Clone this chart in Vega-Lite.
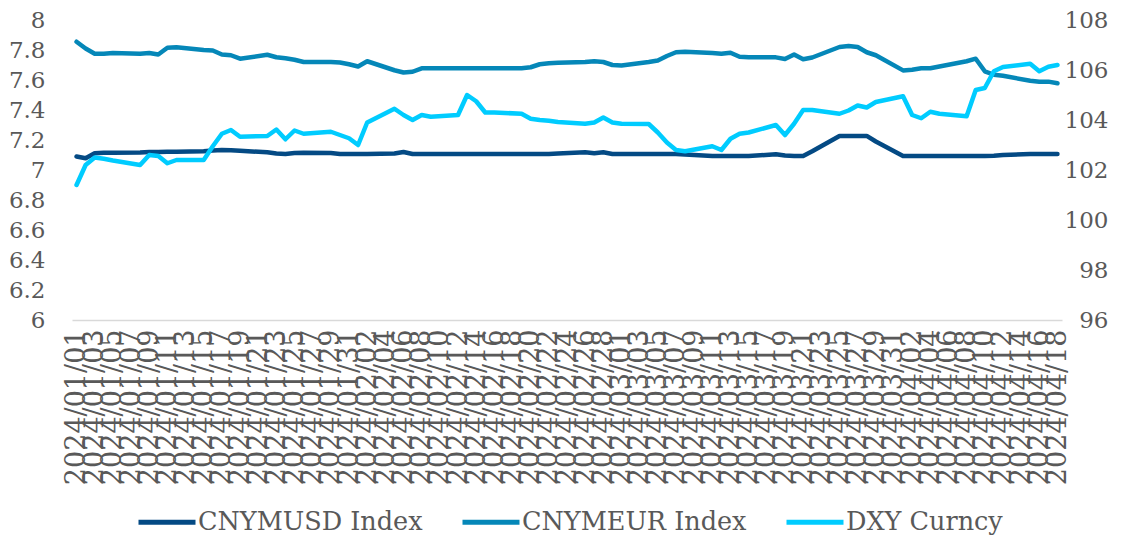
{
  "$schema": "https://vega.github.io/schema/vega-lite/v6.json",
  "width": 990,
  "height": 300,
  "autosize": {"type": "none"},
  "padding": {"left": 72, "top": 20, "right": 75, "bottom": 221},
  "background": "white",
  "config": {
    "view": {"stroke": null},
    "font": "DejaVu Serif",
    "axis": {"labelFont": "DejaVu Serif", "labelColor": "#595959", "grid": false, "ticks": false, "tickSize": 0, "title": null},
    "legend": {"labelFont": "DejaVu Serif"}
  },
  "data": {"values": [
    {"date": "2024-01-01", "CNYMUSD Index": 7.09, "CNYMEUR Index": 7.855, "DXY Curncy": 101.4},
    {"date": "2024-01-02", "CNYMUSD Index": 7.078, "CNYMEUR Index": 7.81, "DXY Curncy": 102.2},
    {"date": "2024-01-03", "CNYMUSD Index": 7.112, "CNYMEUR Index": 7.775, "DXY Curncy": 102.5},
    {"date": "2024-01-04", "CNYMUSD Index": 7.115, "CNYMEUR Index": 7.775, "DXY Curncy": 102.45},
    {"date": "2024-01-05", "CNYMUSD Index": 7.115, "CNYMEUR Index": 7.78, "DXY Curncy": 102.38},
    {"date": "2024-01-08", "CNYMUSD Index": 7.117, "CNYMEUR Index": 7.775, "DXY Curncy": 102.2},
    {"date": "2024-01-09", "CNYMUSD Index": 7.12, "CNYMEUR Index": 7.78, "DXY Curncy": 102.6},
    {"date": "2024-01-10", "CNYMUSD Index": 7.12, "CNYMEUR Index": 7.77, "DXY Curncy": 102.56},
    {"date": "2024-01-11", "CNYMUSD Index": 7.122, "CNYMEUR Index": 7.815, "DXY Curncy": 102.27},
    {"date": "2024-01-12", "CNYMUSD Index": 7.122, "CNYMEUR Index": 7.818, "DXY Curncy": 102.4},
    {"date": "2024-01-15", "CNYMUSD Index": 7.125, "CNYMEUR Index": 7.8, "DXY Curncy": 102.4},
    {"date": "2024-01-16", "CNYMUSD Index": 7.13, "CNYMEUR Index": 7.797, "DXY Curncy": 102.95},
    {"date": "2024-01-17", "CNYMUSD Index": 7.133, "CNYMEUR Index": 7.77, "DXY Curncy": 103.45},
    {"date": "2024-01-18", "CNYMUSD Index": 7.132, "CNYMEUR Index": 7.765, "DXY Curncy": 103.6},
    {"date": "2024-01-19", "CNYMUSD Index": 7.128, "CNYMEUR Index": 7.742, "DXY Curncy": 103.33},
    {"date": "2024-01-22", "CNYMUSD Index": 7.118, "CNYMEUR Index": 7.768, "DXY Curncy": 103.36},
    {"date": "2024-01-23", "CNYMUSD Index": 7.11, "CNYMEUR Index": 7.752, "DXY Curncy": 103.62},
    {"date": "2024-01-24", "CNYMUSD Index": 7.107, "CNYMEUR Index": 7.745, "DXY Curncy": 103.23},
    {"date": "2024-01-25", "CNYMUSD Index": 7.113, "CNYMEUR Index": 7.735, "DXY Curncy": 103.58},
    {"date": "2024-01-26", "CNYMUSD Index": 7.115, "CNYMEUR Index": 7.72, "DXY Curncy": 103.45},
    {"date": "2024-01-29", "CNYMUSD Index": 7.113, "CNYMEUR Index": 7.72, "DXY Curncy": 103.53},
    {"date": "2024-01-30", "CNYMUSD Index": 7.107, "CNYMEUR Index": 7.717, "DXY Curncy": 103.4},
    {"date": "2024-01-31", "CNYMUSD Index": 7.107, "CNYMEUR Index": 7.705, "DXY Curncy": 103.27},
    {"date": "2024-02-01", "CNYMUSD Index": 7.107, "CNYMEUR Index": 7.69, "DXY Curncy": 103.0},
    {"date": "2024-02-02", "CNYMUSD Index": 7.107, "CNYMEUR Index": 7.725, "DXY Curncy": 103.9},
    {"date": "2024-02-05", "CNYMUSD Index": 7.11, "CNYMEUR Index": 7.665, "DXY Curncy": 104.45},
    {"date": "2024-02-06", "CNYMUSD Index": 7.12, "CNYMEUR Index": 7.65, "DXY Curncy": 104.2},
    {"date": "2024-02-07", "CNYMUSD Index": 7.107, "CNYMEUR Index": 7.655, "DXY Curncy": 104.0},
    {"date": "2024-02-08", "CNYMUSD Index": 7.107, "CNYMEUR Index": 7.678, "DXY Curncy": 104.2},
    {"date": "2024-02-09", "CNYMUSD Index": 7.107, "CNYMEUR Index": 7.678, "DXY Curncy": 104.13},
    {"date": "2024-02-12", "CNYMUSD Index": 7.107, "CNYMEUR Index": 7.678, "DXY Curncy": 104.2},
    {"date": "2024-02-13", "CNYMUSD Index": 7.107, "CNYMEUR Index": 7.678, "DXY Curncy": 105.0},
    {"date": "2024-02-14", "CNYMUSD Index": 7.107, "CNYMEUR Index": 7.678, "DXY Curncy": 104.75},
    {"date": "2024-02-15", "CNYMUSD Index": 7.107, "CNYMEUR Index": 7.678, "DXY Curncy": 104.3},
    {"date": "2024-02-16", "CNYMUSD Index": 7.107, "CNYMEUR Index": 7.678, "DXY Curncy": 104.3},
    {"date": "2024-02-19", "CNYMUSD Index": 7.107, "CNYMEUR Index": 7.678, "DXY Curncy": 104.25},
    {"date": "2024-02-20", "CNYMUSD Index": 7.107, "CNYMEUR Index": 7.685, "DXY Curncy": 104.05},
    {"date": "2024-02-21", "CNYMUSD Index": 7.107, "CNYMEUR Index": 7.705, "DXY Curncy": 104.0},
    {"date": "2024-02-22", "CNYMUSD Index": 7.107, "CNYMEUR Index": 7.712, "DXY Curncy": 103.97},
    {"date": "2024-02-23", "CNYMUSD Index": 7.11, "CNYMEUR Index": 7.715, "DXY Curncy": 103.92},
    {"date": "2024-02-26", "CNYMUSD Index": 7.118, "CNYMEUR Index": 7.72, "DXY Curncy": 103.85},
    {"date": "2024-02-27", "CNYMUSD Index": 7.112, "CNYMEUR Index": 7.725, "DXY Curncy": 103.9},
    {"date": "2024-02-28", "CNYMUSD Index": 7.118, "CNYMEUR Index": 7.72, "DXY Curncy": 104.1},
    {"date": "2024-02-29", "CNYMUSD Index": 7.107, "CNYMEUR Index": 7.7, "DXY Curncy": 103.9},
    {"date": "2024-03-01", "CNYMUSD Index": 7.107, "CNYMEUR Index": 7.697, "DXY Curncy": 103.85},
    {"date": "2024-03-04", "CNYMUSD Index": 7.107, "CNYMEUR Index": 7.72, "DXY Curncy": 103.84},
    {"date": "2024-03-05", "CNYMUSD Index": 7.107, "CNYMEUR Index": 7.73, "DXY Curncy": 103.5},
    {"date": "2024-03-06", "CNYMUSD Index": 7.107, "CNYMEUR Index": 7.76, "DXY Curncy": 103.1},
    {"date": "2024-03-07", "CNYMUSD Index": 7.107, "CNYMEUR Index": 7.785, "DXY Curncy": 102.8},
    {"date": "2024-03-08", "CNYMUSD Index": 7.103, "CNYMEUR Index": 7.789, "DXY Curncy": 102.75},
    {"date": "2024-03-11", "CNYMUSD Index": 7.093, "CNYMEUR Index": 7.78, "DXY Curncy": 102.95},
    {"date": "2024-03-12", "CNYMUSD Index": 7.093, "CNYMEUR Index": 7.775, "DXY Curncy": 102.8},
    {"date": "2024-03-13", "CNYMUSD Index": 7.093, "CNYMEUR Index": 7.782, "DXY Curncy": 103.25},
    {"date": "2024-03-14", "CNYMUSD Index": 7.093, "CNYMEUR Index": 7.755, "DXY Curncy": 103.45},
    {"date": "2024-03-15", "CNYMUSD Index": 7.093, "CNYMEUR Index": 7.751, "DXY Curncy": 103.5},
    {"date": "2024-03-18", "CNYMUSD Index": 7.105, "CNYMEUR Index": 7.751, "DXY Curncy": 103.8},
    {"date": "2024-03-19", "CNYMUSD Index": 7.096, "CNYMEUR Index": 7.74, "DXY Curncy": 103.4},
    {"date": "2024-03-20", "CNYMUSD Index": 7.093, "CNYMEUR Index": 7.77, "DXY Curncy": 103.85},
    {"date": "2024-03-21", "CNYMUSD Index": 7.093, "CNYMEUR Index": 7.738, "DXY Curncy": 104.4},
    {"date": "2024-03-22", "CNYMUSD Index": 7.125, "CNYMEUR Index": 7.75, "DXY Curncy": 104.4},
    {"date": "2024-03-25", "CNYMUSD Index": 7.227, "CNYMEUR Index": 7.82, "DXY Curncy": 104.25},
    {"date": "2024-03-26", "CNYMUSD Index": 7.227, "CNYMEUR Index": 7.826, "DXY Curncy": 104.38},
    {"date": "2024-03-27", "CNYMUSD Index": 7.227, "CNYMEUR Index": 7.82, "DXY Curncy": 104.58},
    {"date": "2024-03-28", "CNYMUSD Index": 7.227, "CNYMEUR Index": 7.785, "DXY Curncy": 104.5},
    {"date": "2024-03-29", "CNYMUSD Index": 7.19, "CNYMEUR Index": 7.765, "DXY Curncy": 104.72},
    {"date": "2024-04-01", "CNYMUSD Index": 7.093, "CNYMEUR Index": 7.664, "DXY Curncy": 104.95},
    {"date": "2024-04-02", "CNYMUSD Index": 7.093, "CNYMEUR Index": 7.668, "DXY Curncy": 104.2},
    {"date": "2024-04-03", "CNYMUSD Index": 7.093, "CNYMEUR Index": 7.678, "DXY Curncy": 104.07},
    {"date": "2024-04-04", "CNYMUSD Index": 7.093, "CNYMEUR Index": 7.678, "DXY Curncy": 104.33},
    {"date": "2024-04-05", "CNYMUSD Index": 7.093, "CNYMEUR Index": 7.69, "DXY Curncy": 104.25},
    {"date": "2024-04-08", "CNYMUSD Index": 7.093, "CNYMEUR Index": 7.725, "DXY Curncy": 104.15},
    {"date": "2024-04-09", "CNYMUSD Index": 7.093, "CNYMEUR Index": 7.742, "DXY Curncy": 105.2},
    {"date": "2024-04-10", "CNYMUSD Index": 7.093, "CNYMEUR Index": 7.658, "DXY Curncy": 105.28},
    {"date": "2024-04-11", "CNYMUSD Index": 7.095, "CNYMEUR Index": 7.635, "DXY Curncy": 105.95},
    {"date": "2024-04-12", "CNYMUSD Index": 7.1, "CNYMEUR Index": 7.628, "DXY Curncy": 106.12},
    {"date": "2024-04-15", "CNYMUSD Index": 7.107, "CNYMEUR Index": 7.595, "DXY Curncy": 106.25},
    {"date": "2024-04-16", "CNYMUSD Index": 7.107, "CNYMEUR Index": 7.589, "DXY Curncy": 105.95},
    {"date": "2024-04-17", "CNYMUSD Index": 7.107, "CNYMEUR Index": 7.589, "DXY Curncy": 106.13},
    {"date": "2024-04-18", "CNYMUSD Index": 7.107, "CNYMEUR Index": 7.578, "DXY Curncy": 106.2}
  ]},
  "encoding": {
    "x": {
      "field": "date", "type": "temporal",
      "scale": {"type": "utc", "domain": [1704024000000, 1713441600000]},
      "axis": {
        "values": [1704067200000,1704240000000,1704412800000,1704585600000,1704758400000,1704931200000,1705104000000,1705276800000,1705449600000,1705622400000,1705795200000,1705968000000,1706140800000,1706313600000,1706486400000,1706659200000,1706832000000,1707004800000,1707177600000,1707350400000,1707523200000,1707696000000,1707868800000,1708041600000,1708214400000,1708387200000,1708560000000,1708732800000,1708905600000,1709078400000,1709251200000,1709424000000,1709596800000,1709769600000,1709942400000,1710115200000,1710288000000,1710460800000,1710633600000,1710806400000,1710979200000,1711152000000,1711324800000,1711497600000,1711670400000,1711843200000,1712016000000,1712188800000,1712361600000,1712534400000,1712707200000,1712880000000,1713052800000,1713225600000,1713398400000],
        "format": "%Y/%m/%d",
        "labelAngle": 270,
        "labelFontSize": 27,
        "labelPadding": 9,
        "labelOverlap": false,
        "labelBound": false,
        "labelFlush": false,
        "domainColor": "#d9d9d9",
        "domainWidth": 1.5
      }
    },
    "color": {
      "field": "series", "type": "nominal",
      "scale": {"domain": ["CNYMUSD Index", "CNYMEUR Index", "DXY Curncy"], "range": ["#044A84", "#0587B8", "#00CCFF"]},
      "legend": {
        "title": null,
        "orient": "none",
        "direction": "horizontal",
        "legendX": 64,
        "legendY": 471,
        "padding": 0,
        "symbolType": "stroke",
        "symbolSize": 3249,
        "symbolStrokeWidth": 5,
        "labelFontSize": 25.5,
        "labelColor": "#595959",
        "labelLimit": 500,
        "labelOffset": 0,
        "columnPadding": 29
      }
    }
  },
  "layer": [
    {
      "transform": [{"fold": ["CNYMUSD Index", "CNYMEUR Index"], "as": ["series", "value"]}],
      "mark": {"type": "line", "strokeWidth": 4.5, "strokeJoin": "round", "strokeCap": "round"},
      "encoding": {
        "y": {
          "field": "value", "type": "quantitative",
          "scale": {"domain": [6, 8], "nice": false, "zero": false},
          "axis": {"orient": "left", "tickCount": 10, "format": ".1~f", "labelFontSize": 23, "labelPadding": 27, "domain": false}
        }
      }
    },
    {
      "transform": [{"fold": ["DXY Curncy"], "as": ["series", "value"]}],
      "mark": {"type": "line", "strokeWidth": 4.5, "strokeJoin": "round", "strokeCap": "round"},
      "encoding": {
        "y": {
          "field": "value", "type": "quantitative",
          "scale": {"domain": [96, 108], "nice": false, "zero": false},
          "axis": {"orient": "right", "tickCount": 6, "format": "d", "labelFontSize": 23, "labelPadding": 46, "labelAlign": "right", "domain": false}
        }
      }
    }
  ],
  "resolve": {"scale": {"y": "independent"}, "axis": {"y": "independent"}}
}
